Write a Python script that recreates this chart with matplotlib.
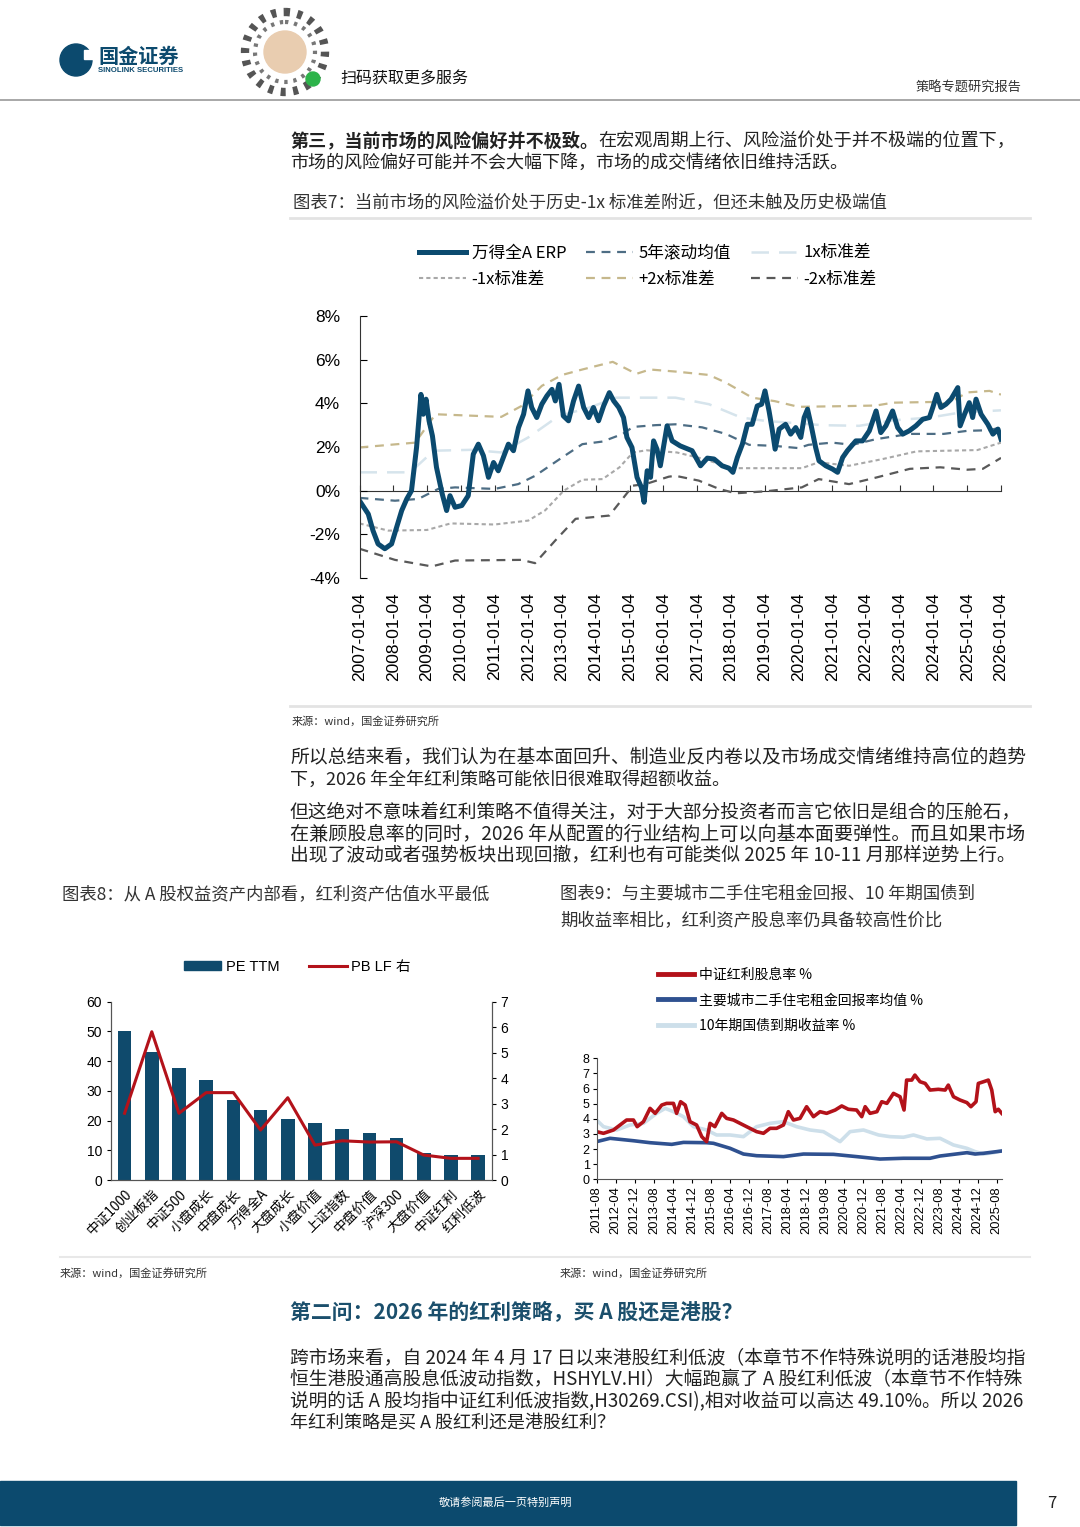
import matplotlib
matplotlib.use('Agg')
import matplotlib.pyplot as plt
from matplotlib.patches import Circle, Rectangle, Patch

plt.rcParams['font.family'] = ['Noto Sans CJK SC', 'DejaVu Sans']
plt.rcParams['axes.unicode_minus'] = False
NUM = ['Liberation Sans', 'Noto Sans CJK SC']

# ---------------- chart 7: ERP and bands (decimal years, %) ----------------
erp_year = [2007.00, 2007.26, 2007.40, 2007.55, 2007.75, 2007.95, 2008.10, 2008.25, 2008.40, 2008.54,
            2008.69, 2008.82, 2008.89, 2008.97, 2009.06, 2009.16, 2009.28, 2009.45, 2009.58, 2009.68,
            2009.83, 2010.03, 2010.22, 2010.37, 2010.52, 2010.67, 2010.82, 2010.97, 2011.11, 2011.26,
            2011.41, 2011.56, 2011.71, 2011.86, 2011.99, 2012.10, 2012.25, 2012.40, 2012.55, 2012.70,
            2012.80, 2012.91, 2013.04, 2013.19, 2013.34, 2013.49, 2013.64, 2013.79, 2013.93, 2014.08,
            2014.23, 2014.40, 2014.53, 2014.68, 2014.82, 2014.92, 2015.07, 2015.22, 2015.35, 2015.43,
            2015.52, 2015.62, 2015.71, 2015.81, 2015.91, 2016.11, 2016.26, 2016.50, 2016.66, 2016.85,
            2017.10, 2017.30, 2017.50, 2017.74, 2017.94, 2018.06, 2018.19, 2018.34, 2018.49, 2018.63,
            2018.78, 2018.91, 2019.01, 2019.13, 2019.23, 2019.31, 2019.43, 2019.62, 2019.77, 2019.92,
            2020.07, 2020.17, 2020.27, 2020.37, 2020.51, 2020.61, 2020.81, 2021.01, 2021.16, 2021.31,
            2021.45, 2021.70, 2021.90, 2022.10, 2022.30, 2022.44, 2022.59, 2022.79, 2022.94, 2023.09,
            2023.28, 2023.48, 2023.68, 2023.88, 2023.98, 2024.10, 2024.22, 2024.37, 2024.52, 2024.72,
            2024.79, 2024.92, 2025.06, 2025.16, 2025.26, 2025.41, 2025.61, 2025.76, 2025.91, 2026.00]
erp_val = [-0.46, -1.07, -1.83, -2.44, -2.66, -2.44, -1.67, -0.91, -0.38, 0.00,
           1.98, 4.41, 3.50, 4.19, 3.20, 2.51, 1.07, -0.15, -0.91, -0.23,
           -0.76, -0.68, -0.23, 1.67, 2.13, 1.60, 0.61, 1.29, 0.91, 1.52,
           2.13, 1.83, 2.89, 3.50, 4.57, 3.81, 3.35, 3.96, 4.34, 4.64,
           4.11, 4.87, 3.42, 3.20, 4.11, 4.79, 3.81, 3.35, 3.81, 3.20,
           3.88, 4.49, 4.11, 3.81, 3.35, 2.44, 1.98, 0.61, 0.15, -0.53,
           0.91, 0.61, 2.28, 1.90, 1.14, 2.97, 2.28, 2.05, 1.95, 1.83,
           1.14, 1.49, 1.45, 1.14, 1.03, 0.84, 1.52, 2.13, 3.04, 3.04,
           3.88, 3.96, 4.57, 3.65, 2.74, 1.90, 2.82, 3.04, 2.59, 2.89,
           2.44, 3.35, 3.73, 3.04, 1.98, 1.37, 1.14, 0.99, 0.84, 1.52,
           1.83, 2.28, 2.28, 2.74, 3.65, 2.66, 2.97, 3.65, 2.89, 2.59,
           2.74, 2.97, 3.27, 3.35, 3.81, 4.41, 3.81, 3.96, 4.19, 4.72,
           2.97, 3.50, 4.03, 3.35, 4.19, 3.50, 3.04, 2.59, 2.82, 2.36]

mean_year = [2007.0, 2008.05, 2008.74, 2009.33, 2009.83, 2011.0, 2011.7, 2012.2, 2013.0, 2013.6,
             2014.2, 2014.8, 2015.1, 2015.76, 2016.36, 2017.15, 2017.85, 2018.54, 2019.3, 2020.0,
             2020.3, 2021.0, 2021.6, 2022.3, 2023.3, 2024.3, 2025.0, 2025.66, 2026.0]
mean_val = [-0.33, -0.46, -0.38, 0.08, 0.15, 0.08, 0.30, 0.68, 1.52, 2.13,
            2.25, 2.60, 2.92, 3.00, 3.04, 2.90, 2.60, 2.10, 2.05, 1.95,
            2.10, 2.20, 2.10, 2.36, 2.60, 2.60, 2.74, 2.77, 2.90]

p1_year = [2007.0, 2008.5, 2009.2, 2010.3, 2011.2, 2012.0, 2012.9, 2013.8, 2014.6, 2016.36,
           2017.35, 2018.3, 2019.0, 2020.7, 2021.8, 2022.8, 2023.9, 2024.8, 2026.0]
p1_val = [0.84, 0.84, 1.83, 1.87, 1.75, 2.44, 3.42, 3.80, 4.26, 4.26,
          3.96, 3.35, 3.20, 3.00, 2.97, 3.22, 3.35, 3.58, 3.68]

m1_year = [2007.0, 2007.85, 2009.0, 2009.7, 2011.0, 2012.0, 2012.5, 2013.05, 2013.6, 2014.2,
           2014.7, 2015.1, 2015.5, 2016.4, 2017.2, 2018.04, 2020.1, 2020.6, 2021.5, 2022.5,
           2023.5, 2025.3, 2026.0]
m1_val = [-1.50, -1.83, -1.80, -1.50, -1.55, -1.37, -0.90, 0.00, 0.50, 0.53,
          1.07, 1.75, 1.85, 1.75, 1.45, 1.03, 1.03, 1.30, 1.14, 1.45,
          1.80, 1.86, 2.20]

p2_year = [2007.0, 2008.65, 2009.25, 2011.2, 2011.8, 2012.4, 2013.0, 2013.6, 2014.5, 2015.2,
           2015.6, 2016.4, 2017.35, 2017.85, 2018.63, 2019.3, 2020.0, 2021.3, 2022.3, 2022.8,
           2023.9, 2024.4, 2025.0, 2025.66, 2026.0]
p2_val = [1.98, 2.20, 3.50, 3.38, 3.88, 4.80, 5.30, 5.55, 5.90, 5.35,
          5.55, 5.45, 5.30, 4.95, 4.26, 4.10, 3.84, 3.87, 3.90, 4.03,
          4.06, 3.96, 4.50, 4.57, 4.40]

m2_year = [2007.0, 2008.05, 2009.14, 2009.83, 2011.8, 2012.2, 2012.8, 2013.4, 2014.4, 2015.1,
           2015.47, 2016.16, 2016.36, 2017.05, 2017.65, 2018.14, 2019.03, 2020.1, 2020.6, 2021.5,
           2022.3, 2023.3, 2024.2, 2025.0, 2025.46, 2026.0]
m2_val = [-2.66, -3.17, -3.47, -3.20, -3.17, -3.32, -2.28, -1.29, -1.14, 0.23,
          0.30, 0.64, 0.68, 0.46, 0.08, -0.12, -0.03, 0.15, 0.53, 0.30,
          0.60, 1.00, 1.07, 0.96, 1.00, 1.50]

c7_years = list(range(2007, 2027))
c7_labels = [f'{y}-01-04' for y in c7_years]
c7_yticks = [-4, -2, 0, 2, 4, 6, 8]

# ---------------- chart 8: valuation ----------------
c8_cats = ['中证1000', '创业板指', '中证500', '小盘成长', '中盘成长', '万得全A', '大盘成长',
           '小盘价值', '上证指数', '中盘价值', '沪深300', '大盘价值', '中证红利', '红利低波']
pe_ttm = [50.1, 43.2, 37.6, 33.6, 26.8, 23.4, 20.5, 19.2, 17.2, 15.8, 14.3, 9.0, 8.4, 8.3]
pb_lf = [2.62, 5.82, 2.62, 3.43, 3.43, 1.96, 3.23, 1.37, 1.54, 1.49, 1.50, 0.98, 0.85, 0.85]

# ---------------- chart 9: yields (decimal years, %) ----------------
div_year = [2011.58, 2011.82, 2012.17, 2012.40, 2012.63, 2012.87, 2013.00, 2013.22, 2013.45, 2013.63,
            2013.86, 2014.03, 2014.27, 2014.38, 2014.52, 2014.68, 2014.85, 2015.08, 2015.26, 2015.43,
            2015.55, 2015.72, 2015.96, 2016.13, 2016.37, 2016.60, 2016.83, 2017.18, 2017.42, 2017.65,
            2017.88, 2018.12, 2018.29, 2018.47, 2018.70, 2018.93, 2019.17, 2019.40, 2019.63, 2019.93,
            2020.16, 2020.39, 2020.68, 2020.86, 2020.98, 2021.15, 2021.39, 2021.56, 2021.74, 2021.97,
            2022.20, 2022.34, 2022.43, 2022.61, 2022.72, 2022.90, 2023.08, 2023.25, 2023.54, 2023.78,
            2023.89, 2024.07, 2024.30, 2024.54, 2024.68, 2024.86, 2024.94, 2025.12, 2025.29, 2025.41,
            2025.53, 2025.64, 2025.76]
div_val = [3.15, 3.04, 3.26, 3.59, 3.92, 3.92, 3.48, 3.81, 4.69, 4.36,
           4.91, 5.02, 5.02, 4.36, 5.13, 4.91, 3.81, 3.59, 2.82, 2.49,
           3.70, 3.48, 4.36, 4.03, 3.92, 3.70, 3.48, 3.15, 3.04, 3.37,
           3.37, 3.59, 4.47, 3.92, 4.03, 4.80, 4.14, 4.47, 4.36, 4.58,
           4.85, 4.63, 4.58, 4.14, 4.80, 4.36, 4.47, 5.13, 5.02, 5.68,
           5.46, 4.58, 6.56, 6.56, 6.89, 6.45, 6.34, 5.90, 5.95, 5.90,
           6.23, 5.46, 5.24, 5.07, 4.80, 5.13, 6.34, 6.45, 6.56, 5.90,
           4.47, 4.63, 4.36]

rent_year = [2011.58, 2012.05, 2012.87, 2013.45, 2014.21, 2014.62, 2015.43, 2015.67, 2016.25, 2016.72,
             2017.18, 2018.12, 2018.82, 2019.87, 2020.68, 2021.50, 2022.32, 2023.25, 2023.60, 2024.54,
             2024.83, 2025.12, 2025.76]
rent_val = [2.49, 2.71, 2.55, 2.42, 2.31, 2.44, 2.42, 2.38, 2.05, 1.67,
            1.56, 1.50, 1.67, 1.65, 1.50, 1.34, 1.39, 1.39, 1.54, 1.76,
            1.67, 1.72, 1.87]

bond_year = [2011.58, 2011.82, 2012.28, 2012.75, 2013.22, 2013.68, 2013.98, 2014.27, 2014.62, 2014.97,
             2015.43, 2015.78, 2016.25, 2016.72, 2017.18, 2017.65, 2018.12, 2018.58, 2019.05, 2019.52,
             2020.10, 2020.45, 2020.92, 2021.45, 2021.85, 2022.32, 2022.67, 2023.14, 2023.60, 2024.07,
             2024.54, 2024.83, 2025.12, 2025.47, 2025.76]
bond_val = [3.92, 3.48, 3.26, 3.59, 3.70, 4.36, 4.69, 4.47, 4.14, 3.48,
            3.26, 2.93, 2.93, 2.82, 3.48, 3.70, 3.81, 3.48, 3.26, 3.15,
            2.49, 3.15, 3.26, 2.93, 2.82, 2.78, 2.93, 2.67, 2.71, 2.27,
            2.05, 1.83, 1.67, 1.76, 1.89]

c9_labels = ['2011-08', '2012-04', '2012-12', '2013-08', '2014-04', '2014-12', '2015-08', '2016-04',
             '2016-12', '2017-08', '2018-04', '2018-12', '2019-08', '2020-04', '2020-12', '2021-08',
             '2022-04', '2022-12', '2023-08', '2024-04', '2024-12', '2025-08']
c9_ticks = [int(s[:4]) + (int(s[5:]) - 1) / 12 for s in c9_labels]

NAVY = '#0c4a6e'
RED = '#b3121a'
TXT = '#222222'

fig = plt.figure(figsize=(10.8, 15.27), dpi=100)
page = fig.add_axes([0, 0, 1, 1])
page.set_xlim(0, 1080)
page.set_ylim(1527, 0)
page.axis('off')
rend = fig.canvas.get_renderer()


def line_runs(y, parts, x0=290, size=13, right=None):
    # draw text runs side by side; if right is given, size the line to end there
    if right is not None:
        w = 0
        for s, wt in parts:
            t = page.text(0, 0, s, fontsize=size, fontweight=wt)
            w += t.get_window_extent(renderer=rend).width
            t.remove()
        size = min(size * (right - x0) / w, 14.2)
    x = x0
    for s, wt in parts:
        t = page.text(x, y, s, fontsize=size, fontweight=wt, va='center', ha='left', color=TXT)
        x += t.get_window_extent(renderer=rend).width


# ---------- header ----------
page.add_patch(Circle((76, 60), 16, color=NAVY))
page.add_patch(Rectangle((84, 50), 10, 9, color='white'))
page.text(98, 56, '国金证券', fontsize=14.5, fontweight='bold', color=NAVY, va='center')
page.text(98, 71, 'SINOLINK SECURITIES', fontsize=5.6, fontweight='bold', color=NAVY, va='center',
          family=NUM)
page.add_patch(Circle((285, 52), 40, fill=False, ec='#555555', lw=6, ls=(0, (0.6, 0.9))))
page.add_patch(Circle((285, 52), 30, fill=False, ec='#777777', lw=3, ls=(0, (0.8, 1.4))))
page.add_patch(Circle((285, 52), 21, color='#e9cdb0'))
page.add_patch(Circle((313, 79), 7, color='#2db34a'))
page.text(340, 79, '扫码获取更多服务', fontsize=11.5, color='#111111', va='center')
page.text(1022, 88, '策略专题研究报告', fontsize=9.5, color='#333333', va='center', ha='right')
page.plot([0, 1080], [100, 100], color='#9a9a9a', lw=1.2)

# ---------- body text ----------
line_runs(141, [('第三，当前市场的风险偏好并不极致。', 'bold'),
                ('在宏观周期上行、风险溢价处于并不极端的位置下，', 'normal')], right=1012)
line_runs(163, [('市场的风险偏好可能并不会大幅下降，市场的成交情绪依旧维持活跃。', 'normal')])
page.text(293, 202, '图表7：当前市场的风险溢价处于历史-1x 标准差附近，但还未触及历史极端值',
          fontsize=12.5, color='#333333', va='center')
page.plot([290, 1030], [218, 218], color='#e3e3e3', lw=2)
page.plot([290, 1030], [706, 706], color='#e3e3e3', lw=2)
page.text(292, 721, '来源：wind，国金证券研究所', fontsize=8, color='#333333', va='center')

line_runs(758, [('所以总结来看，我们认为在基本面回升、制造业反内卷以及市场成交情绪维持高位的趋势', 'normal')],
          right=1022)
line_runs(780, [('下，2026 年全年红利策略可能依旧很难取得超额收益。', 'normal')])
line_runs(813, [('但这绝对不意味着红利策略不值得关注，对于大部分投资者而言它依旧是组合的压舱石，', 'normal')],
          right=1020)
line_runs(834, [('在兼顾股息率的同时，2026 年从配置的行业结构上可以向基本面要弹性。而且如果市场', 'normal')],
          right=1022)
line_runs(856, [('出现了波动或者强势板块出现回撤，红利也有可能类似 2025 年 10-11 月那样逆势上行。', 'normal')],
          right=1015)

page.text(62, 894, '图表8：从 A 股权益资产内部看，红利资产估值水平最低', fontsize=12.5, color='#333333',
          va='center')
page.text(560, 894, '图表9：与主要城市二手住宅租金回报、10 年期国债到', fontsize=12.5, color='#333333',
          va='center')
page.text(560, 921, '期收益率相比，红利资产股息率仍具备较高性价比', fontsize=12.5, color='#333333',
          va='center')
page.plot([60, 1030], [1257, 1257], color='#e8e8e8', lw=1.5)
page.text(60, 1273, '来源：wind，国金证券研究所', fontsize=8, color='#333333', va='center')
page.text(560, 1273, '来源：wind，国金证券研究所', fontsize=8, color='#333333', va='center')

page.text(290, 1313, '第二问：2026 年的红利策略，买 A 股还是港股？', fontsize=15, fontweight='bold',
          color='#1b4f6c', va='center')
line_runs(1359, [('跨市场来看，自 2024 年 4 月 17 日以来港股红利低波（本章节不作特殊说明的话港股均指', 'normal')],
          right=1022)
line_runs(1380, [('恒生港股通高股息低波动指数，HSHYLV.HI）大幅跑赢了 A 股红利低波（本章节不作特殊', 'normal')],
          right=1020)
line_runs(1402, [('说明的话 A 股均指中证红利低波指数,H30269.CSI),相对收益可以高达 49.10%。所以 2026', 'normal')],
          right=1024)
line_runs(1423, [('年红利策略是买 A 股红利还是港股红利？', 'normal')])

# ---------- footer ----------
page.add_patch(Rectangle((0, 1481), 1016, 44, color=NAVY))
page.text(506, 1503, '敬请参阅最后一页特别声明', fontsize=8, color='white', va='center', ha='center')
page.text(1052, 1503, '7', fontsize=12, color='#222222', va='center', ha='center')

# ---------- chart 7 ----------
ax7 = fig.add_axes([359.5 / 1080, 1 - 578 / 1527, 641.5 / 1080, 262 / 1527])
h_m1, = ax7.plot(m1_year, m1_val, color='#a8a8a8', lw=1.5, ls=(0, (2, 1.5)))
h_m2, = ax7.plot(m2_year, m2_val, color='#595959', lw=1.6, ls=(0, (4, 3)))
h_p2, = ax7.plot(p2_year, p2_val, color='#c6b88c', lw=1.6, ls=(0, (4, 3)))
h_p1, = ax7.plot(p1_year, p1_val, color='#d6e4ec', lw=1.8, ls=(0, (7, 4)))
h_mean, = ax7.plot(mean_year, mean_val, color='#4d6d84', lw=1.6, ls=(0, (4, 3)))
h_erp, = ax7.plot(erp_year, erp_val, color='#0b4a6f', lw=3.6, solid_joinstyle='round')
ax7.set_xlim(2007, 2026)
ax7.set_ylim(-4, 8)
ax7.set_yticks(c7_yticks)
ax7.set_yticklabels([f'{v}%' for v in c7_yticks], family=NUM, fontsize=12.5)
ax7.set_xticks(c7_years)
ax7.set_xticklabels(c7_labels, rotation=90, family=NUM, fontsize=12.5)
ax7.tick_params(axis='x', length=0, pad=10)
ax7.tick_params(axis='y', direction='in', length=5, pad=14)
for s in ['top', 'right', 'bottom']:
    ax7.spines[s].set_visible(False)
ax7.spines['left'].set_color('#333333')
sec = ax7.secondary_xaxis(0, transform=ax7.transData)
sec.set_xticks(c7_years)
sec.tick_params(direction='in', length=4, labelbottom=False, color='#333333')
sec.spines['bottom'].set_color('#333333')
ax7.legend([h_erp, h_m1, h_mean, h_p2, h_p1, h_m2],
           ['万得全A ERP', '-1x标准差', '5年滚动均值', '+2x标准差', '1x标准差', '-2x标准差'],
           ncol=3, loc='center', bbox_to_anchor=(648 / 1080, 1 - 266 / 1527),
           bbox_transform=fig.transFigure, frameon=False, fontsize=12, handlelength=2.8,
           handletextpad=0.35, columnspacing=1.2, labelspacing=0.55)

# ---------- chart 8 ----------
ax8 = fig.add_axes([111 / 1080, 1 - 1180 / 1527, 380.7 / 1080, 178.3 / 1527])
xs = list(range(len(c8_cats)))
ax8.bar(xs, pe_ttm, width=0.5, color='#0f4a6c')
ax8.set_xlim(-0.5, len(c8_cats) - 0.5)
ax8.set_ylim(0, 60)
ax8.set_yticks(range(0, 61, 10))
ax8.tick_params(axis='y', labelsize=10, length=3)
for lab in ax8.get_yticklabels():
    lab.set_family(NUM)
ax8.set_xticks(xs)
ax8.set_xticklabels(c8_cats, rotation=45, ha='right', rotation_mode='anchor', fontsize=9.8)
ax8.tick_params(axis='x', length=0, pad=5)
ax8.spines['top'].set_visible(False)
ax8b = ax8.twinx()
h_pb, = ax8b.plot(xs, pb_lf, color=RED, lw=2.2)
ax8b.set_ylim(0, 7)
ax8b.set_yticks(range(0, 8))
ax8b.tick_params(axis='y', labelsize=10, length=3)
for lab in ax8b.get_yticklabels():
    lab.set_family(NUM)
ax8b.spines['top'].set_visible(False)
for a in (ax8, ax8b):
    for s in a.spines.values():
        s.set_color('#555555')
ax8.legend([Patch(color='#0f4a6c'), h_pb], ['PE TTM', 'PB LF 右'], ncol=2, loc='center',
           bbox_to_anchor=(297 / 1080, 1 - 967 / 1527), bbox_transform=fig.transFigure,
           frameon=False, handlelength=2.6, handleheight=0.6,
           handletextpad=0.3, columnspacing=2.0, prop={'family': NUM, 'size': 10.5})

# ---------- chart 9 ----------
ax9 = fig.add_axes([596.7 / 1080, 1 - 1179.3 / 1527, 405 / 1080, 121 / 1527])
h_bond, = ax9.plot(bond_year, bond_val, color='#cddfea', lw=2.6)
h_rent, = ax9.plot(rent_year, rent_val, color='#2f5190', lw=2.6)
h_div, = ax9.plot(div_year, div_val, color=RED, lw=2.6)
ax9.set_xlim(c9_ticks[0], c9_ticks[-1] + 2.1 / 12)
ax9.set_ylim(0, 8)
ax9.set_yticks(range(0, 9))
ax9.set_xticks(c9_ticks)
ax9.set_xticklabels(c9_labels, rotation=90, family=NUM, fontsize=9.3)
ax9.tick_params(axis='y', labelsize=9, length=3, pad=2)
ax9.tick_params(axis='x', length=3, pad=2)
for lab in ax9.get_yticklabels():
    lab.set_family(NUM)
for s in ['top', 'right']:
    ax9.spines[s].set_visible(False)
for s in ['left', 'bottom']:
    ax9.spines[s].set_color('#555555')
ax9.legend([h_div, h_rent, h_bond],
           ['中证红利股息率 %', '主要城市二手住宅租金回报率均值 %', '10年期国债到期收益率 %'],
           loc='upper left', bbox_to_anchor=(645 / 1080, 1 - 955 / 1527),
           bbox_transform=fig.transFigure, frameon=False, fontsize=10, handlelength=2.6,
           handletextpad=0.4, labelspacing=0.85)
for ln in ax9.get_legend().get_lines():
    ln.set_linewidth(3.5)

fig.savefig('out.png', dpi=100)
